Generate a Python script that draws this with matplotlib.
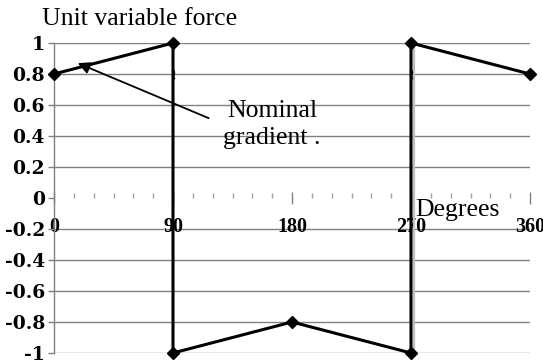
import matplotlib
matplotlib.use('Agg')
import matplotlib.pyplot as plt
import matplotlib.transforms as mtransforms
from matplotlib.ticker import MultipleLocator

# 数据
degrees = [0, 90, 90, 180, 270, 270, 360]
force = [0.8, 1, -1, -0.8, -1, 1, 0.8]
break_x = [90, 270]
break_y = [0.8, 0.8]
x_ticks = [0, 90, 180, 270, 360]
y_ticks = [1, 0.8, 0.6, 0.4, 0.2, 0, -0.2, -0.4, -0.6, -0.8, -1]
y_labels = ['1', '0.8', '0.6', '0.4', '0.2', '0', '-0.2', '-0.4', '-0.6', '-0.8', '-1']

SERIF = 'Liberation Serif'
GRAY = '#808080'

fig = plt.figure(figsize=(5.43, 3.63), dpi=100)
ax = fig.add_axes([54 / 543, 1 - 353 / 363, 476 / 543, 310 / 363])
ax.set_xlim(0, 360)
ax.set_ylim(-1, 1)

# 网格（y=0 处不画）
for y in y_ticks:
    if y != 0:
        ax.axhline(y, color=GRAY, lw=1.0, zorder=1)

# 坐标轴
for s in ['top', 'right', 'bottom']:
    ax.spines[s].set_visible(False)
ax.spines['left'].set_color(GRAY)
ax.spines['left'].set_linewidth(1.0)
ax.spines['bottom'].set_position(('data', 0))

ax.set_yticks(y_ticks)
ax.set_yticklabels(y_labels, fontfamily='DejaVu Serif', fontweight='bold', fontsize=13.5)
ax.tick_params(axis='y', direction='out', length=4.5, width=1, color=GRAY, pad=2)

ax.set_xticks(x_ticks)
ax.set_xticklabels([str(v) for v in x_ticks], fontfamily=SERIF, fontweight='bold', fontsize=14.5)
ax.xaxis.set_minor_locator(MultipleLocator(15))
ax.tick_params(axis='x', which='major', direction='inout', length=9, width=1, color=GRAY, pad=9)
ax.tick_params(axis='x', which='minor', direction='in', length=3.5, width=1, color='#a0a0a0')

# 曲线
shadow = mtransforms.offset_copy(ax.transData, fig=fig, x=2.5, y=0, units='dots')
ax.plot(degrees[4:6], force[4:6], color='#c0c0c0', lw=1.6, transform=shadow, zorder=2)
ax.plot(degrees, force, color='black', lw=2.2, marker='D', ms=6, zorder=3, clip_on=False)
ax.plot(break_x, break_y, ls='none', marker=r'$\wr$', ms=6, color='black', zorder=4)

# 标注
ax.annotate('', xy=(18, 0.87), xytext=(117, 0.515),
            arrowprops=dict(arrowstyle='-|>', color='black', lw=1.3,
                            mutation_scale=18, shrinkA=0, shrinkB=0), zorder=5)
ax.text(165, 0.56, 'Nominal', family=SERIF, fontsize=18.5, ha='center', va='center')
ax.text(165, 0.39, 'gradient .', family=SERIF, fontsize=18.5, ha='center', va='center')
ax.text(273.5, -0.075, 'Degrees', family=SERIF, fontsize=18.5, ha='left', va='center')

fig.text(42 / 543, 1 - 19 / 363, 'Unit variable force', family=SERIF, fontsize=18.5,
         ha='left', va='center')

fig.savefig('out.png', dpi=100)
